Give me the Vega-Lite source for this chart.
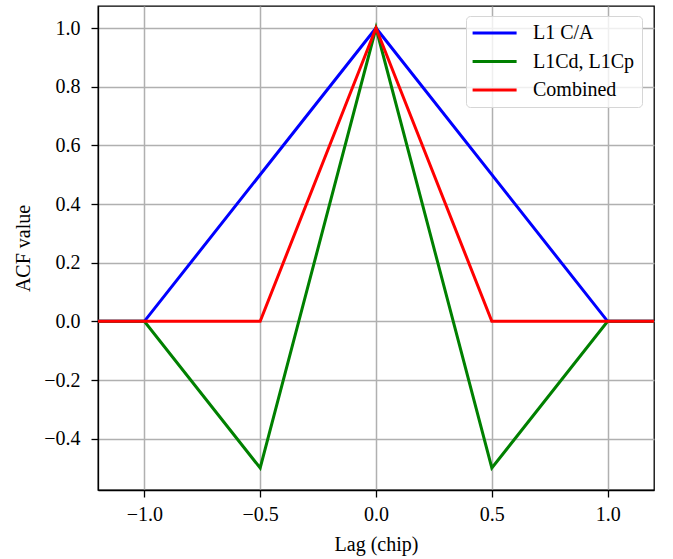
{
  "$schema": "https://vega.github.io/schema/vega-lite/v6.json",
  "width": 556,
  "height": 484,
  "autosize": {"type": "none"},
  "padding": {"left": 98, "top": 6, "right": 19, "bottom": 69},
  "background": "white",
  "config": {
    "font": "Liberation Serif",
    "view": {"stroke": "black", "strokeWidth": 1.3},
    "axis": {
      "labelFont": "Liberation Serif",
      "titleFont": "Liberation Serif",
      "labelFontSize": 20,
      "titleFontSize": 20,
      "titleFontWeight": "normal",
      "labelColor": "black",
      "titleColor": "black",
      "domainColor": "black",
      "domainWidth": 1.3,
      "tickColor": "black",
      "tickWidth": 1.3,
      "tickSize": 7,
      "gridColor": "#b0b0b0",
      "gridWidth": 1.5
    }
  },
  "data": {
    "values": [
      {"lag": -1.2, "acf": 0, "signal": "L1 C/A"},
      {"lag": -1.0, "acf": 0, "signal": "L1 C/A"},
      {"lag": 0.0, "acf": 1, "signal": "L1 C/A"},
      {"lag": 1.0, "acf": 0, "signal": "L1 C/A"},
      {"lag": 1.2, "acf": 0, "signal": "L1 C/A"},
      {"lag": -1.2, "acf": 0, "signal": "L1Cd, L1Cp"},
      {"lag": -1.0, "acf": 0, "signal": "L1Cd, L1Cp"},
      {"lag": -0.5, "acf": -0.5, "signal": "L1Cd, L1Cp"},
      {"lag": 0.0, "acf": 1, "signal": "L1Cd, L1Cp"},
      {"lag": 0.5, "acf": -0.5, "signal": "L1Cd, L1Cp"},
      {"lag": 1.0, "acf": 0, "signal": "L1Cd, L1Cp"},
      {"lag": 1.2, "acf": 0, "signal": "L1Cd, L1Cp"},
      {"lag": -1.2, "acf": 0, "signal": "Combined"},
      {"lag": -0.5, "acf": 0, "signal": "Combined"},
      {"lag": 0.0, "acf": 1, "signal": "Combined"},
      {"lag": 0.5, "acf": 0, "signal": "Combined"},
      {"lag": 1.2, "acf": 0, "signal": "Combined"}
    ]
  },
  "mark": {"type": "line", "strokeWidth": 3, "clip": true},
  "encoding": {
    "x": {
      "field": "lag",
      "type": "quantitative",
      "title": "Lag (chip)",
      "scale": {"domain": [-1.2, 1.2], "nice": false, "zero": false},
      "axis": {
        "values": [-1.0, -0.5, 0.0, 0.5, 1.0],
        "format": ".1f",
        "labelExpr": "replace(datum.label, '-', '\u2212')",
        "labelPadding": 7,
        "titlePadding": 10
      }
    },
    "y": {
      "field": "acf",
      "type": "quantitative",
      "title": "ACF value",
      "scale": {"domain": [-0.575, 1.075], "nice": false, "zero": false},
      "axis": {
        "values": [-0.4, -0.2, 0.0, 0.2, 0.4, 0.6, 0.8, 1.0],
        "format": ".1f",
        "labelExpr": "replace(datum.label, '-', '\u2212')",
        "labelPadding": 11,
        "titlePadding": 10
      }
    },
    "color": {
      "field": "signal",
      "type": "nominal",
      "sort": ["L1 C/A", "L1Cd, L1Cp", "Combined"],
      "scale": {
        "domain": ["L1 C/A", "L1Cd, L1Cp", "Combined"],
        "range": ["#0000ff", "#008000", "#ff0000"]
      },
      "legend": {
        "title": null,
        "orient": "none",
        "legendX": 368,
        "legendY": 10,
        "symbolType": "M-1.3,0H4.2",
        "symbolSize": 256,
        "symbolStrokeWidth": 3,
        "labelFont": "Liberation Serif",
        "labelFontSize": 20,
        "labelColor": "black",
        "labelOffset": 40,
        "rowPadding": 8.5,
        "padding": 7,
        "fillColor": "rgba(255,255,255,0.8)",
        "strokeColor": "#d6d6d6",
        "cornerRadius": 4
      }
    }
  }
}
